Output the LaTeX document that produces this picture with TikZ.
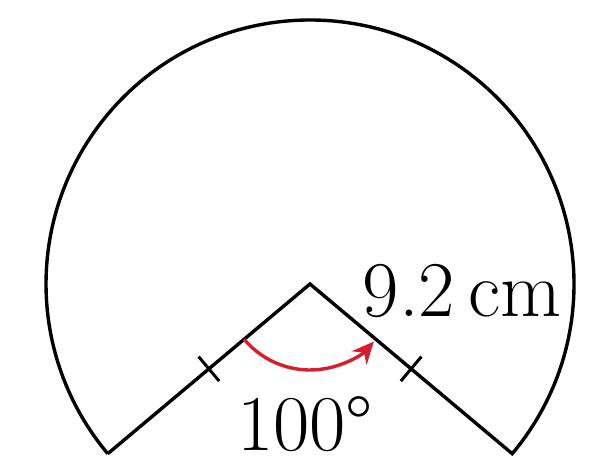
\documentclass[tikz,border=0pt]{standalone}
\usetikzlibrary{arrows.meta,calc}
\definecolor{arcred}{RGB}{214,30,44}
\tikzset{
  edge/.style={line width=3.4pt,line join=miter,line cap=butt},
  tickmark/.style={line width=3.0pt},
  anglearc/.style={line width=3.4pt,draw=arcred,-{Stealth[length=22pt,width=20pt]}},
  bigtext/.style={font=\fontsize{79}{88}\selectfont,inner sep=0pt}
}
\begin{document}
\begin{tikzpicture}[x=1pt,y=1pt]
\useasboundingbox (0,0) rectangle (589,463);
\coordinate (C) at (310,179);
\coordinate (L) at ($(C)+(220:264)$);
\coordinate (R) at ($(C)+(-40:264)$);
% sector outline
\draw[edge] (L) -- (C) -- (R) arc[start angle=-40,end angle=220,radius=264];
% tick marks
\coordinate (ML) at ($(C)!0.5!(L)$);
\coordinate (MR) at ($(C)!0.5!(R)$);
\draw[tickmark] ($(ML)+(130:16)$) -- ($(ML)+(310:16)$);
\draw[tickmark] ($(MR)+(50:16)$) -- ($(MR)+(230:16)$);
% angle arc
\coordinate (A1) at ($(C)+(220:86)$);
\draw[anglearc] (A1) arc[start angle=220,end angle=318,radius=86];
% labels
\node[bigtext,anchor=base] (ang) at (305,12) {100\textdegree};
\node[bigtext,anchor=base] (len) at (462,146) {9.2\,cm};
\end{tikzpicture}
\end{document}
